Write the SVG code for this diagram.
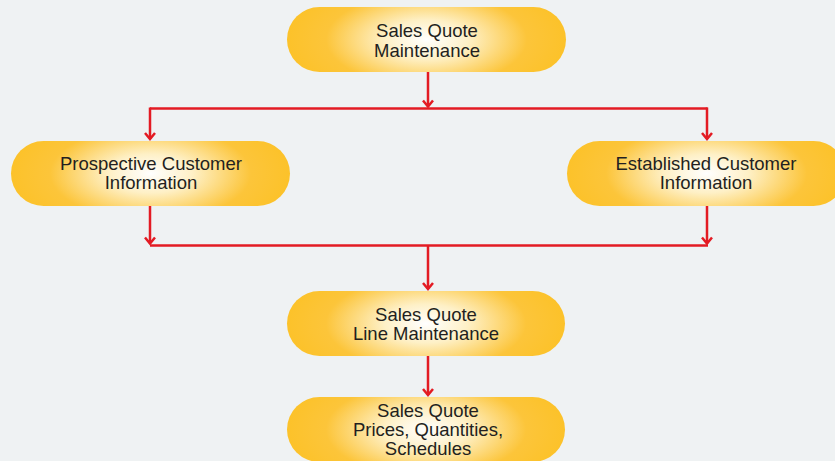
<svg xmlns="http://www.w3.org/2000/svg" width="835" height="461" viewBox="0 0 835 461">
<defs>
<radialGradient id="g" cx="0.5" cy="0.5" r="0.5" gradientTransform="translate(0 -0.5) scale(1 2)">
<stop offset="0" stop-color="#ffffff"/>
<stop offset="0.3" stop-color="#fef0c6"/>
<stop offset="0.72" stop-color="#fcc53a"/>
<stop offset="1" stop-color="#fcc22a"/>
</radialGradient>
<marker id="ah" viewBox="0 0 12 12" refX="10" refY="6" markerWidth="12" markerHeight="12" markerUnits="userSpaceOnUse" orient="auto">
<path d="M4,1 L10,6 L4,11" fill="none" stroke="#e31b23" stroke-width="2.5"/>
</marker>
<style>
.n{fill:url(#g)}
.t{font-family:"Liberation Sans",Arial,sans-serif;font-size:18.5px;fill:#231f20;text-anchor:middle}
.c{fill:none;stroke:#e31b23;stroke-width:2.5}
</style>
</defs>
<rect width="835" height="461" fill="#eff2f3"/>
<g id="connectors">
<path class="c" d="M428,72 V106.5" marker-end="url(#ah)"/>
<path class="c" d="M150,108.5 H707.5"/>
<path class="c" d="M150,107.5 V139" marker-end="url(#ah)"/>
<path class="c" d="M707,107.5 V139" marker-end="url(#ah)"/>
<path class="c" d="M150,206 V243.5" marker-end="url(#ah)"/>
<path class="c" d="M707,206 V243.5" marker-end="url(#ah)"/>
<path class="c" d="M150,245.5 H708"/>
<path class="c" d="M428,245 V289" marker-end="url(#ah)"/>
<path class="c" d="M428,356 V395" marker-end="url(#ah)"/>
</g>
<g id="n1"><rect class="n" x="287" y="7" width="279" height="65" rx="32.5"/><text class="t" x="427" y="37">Sales Quote</text><text class="t" x="427" y="56.5">Maintenance</text></g>
<g id="n2"><rect class="n" x="11" y="141" width="279" height="65" rx="32.5"/><text class="t" x="151" y="169.5">Prospective Customer</text><text class="t" x="151" y="189">Information</text></g>
<g id="n3"><rect class="n" x="567" y="141" width="279" height="65" rx="32.5"/><text class="t" x="706" y="169.5">Established Customer</text><text class="t" x="706" y="189">Information</text></g>
<g id="n4"><rect class="n" x="287" y="291" width="278" height="65" rx="32.5"/><text class="t" x="426" y="321">Sales Quote</text><text class="t" x="426" y="340">Line Maintenance</text></g>
<g id="n5"><rect class="n" x="287" y="397" width="278" height="65" rx="32.5"/><text class="t" x="428" y="416.5">Sales Quote</text><text class="t" x="428" y="436">Prices, Quantities,</text><text class="t" x="428" y="455">Schedules</text></g>
</svg>
